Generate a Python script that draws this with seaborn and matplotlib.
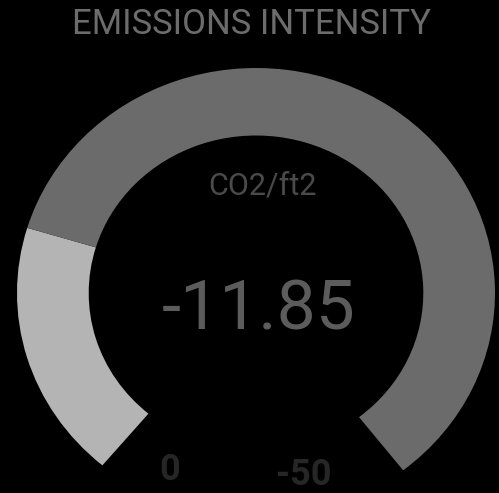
import matplotlib
matplotlib.use("Agg")
import matplotlib.pyplot as plt
import seaborn as sns

# ---- data ----
title = "EMISSIONS INTENSITY"
unit_label = "CO2/ft2"
gauge_min = 0
gauge_max = -50
value = -11.85
min_label = "0"
max_label = "-50"

sns.set_theme(style="dark", rc={"axes.facecolor": "black", "figure.facecolor": "black"})
plt.rcParams['font.family'] = ['Roboto', 'DejaVu Sans']

W, H = 499, 493
fig = plt.figure(figsize=(W / 100, H / 100), dpi=100, facecolor="black")
ax = fig.add_axes([0, 0, 1, 1])
ax.set_facecolor("black")

# gauge geometry (visible sweep in degrees)
sweep = 282.0
start = 230.0
span = abs(gauge_max - gauge_min)
filled = abs(value - gauge_min)
rest = span - filled
gap = span * (360.0 - sweep) / sweep

ax.pie([filled, rest, gap], colors=["#b4b4b4", "#6b6b6b", (0, 0, 0, 0)],
       startangle=start, counterclock=False, radius=1.0,
       wedgeprops=dict(width=0.30, edgecolor="none", linewidth=0))

cx, cy = 256, 293   # pixel centre (from top)
rx, ry = 239, 225   # pixel radii
ax.set_aspect("auto")
ax.set_xlim(-cx / rx, (W - cx) / rx)
ax.set_ylim(-(H - cy) / ry, cy / ry)
ax.axis("off")

def fx(x):
    return x / W

def fy(y):
    return 1 - y / H

fig.text(fx(252), fy(24), title, ha="center", va="center", fontsize=25,
         color="#6c6c6c")
fig.text(fx(263), fy(186), unit_label, ha="center", va="center", fontsize=22,
         color="#4a4a4a")
fig.text(fx(259), fy(311), f"{value:.2f}", ha="center", va="center", fontsize=50,
         color="#5c5c5c")
fig.text(fx(170), fy(470), min_label, ha="center", va="center", fontsize=26,
         color="#262626", fontweight="bold")
fig.text(fx(304), fy(475), max_label, ha="center", va="center", fontsize=26,
         color="#262626", fontweight="bold")

fig.savefig("out.png", dpi=100, facecolor="black")
